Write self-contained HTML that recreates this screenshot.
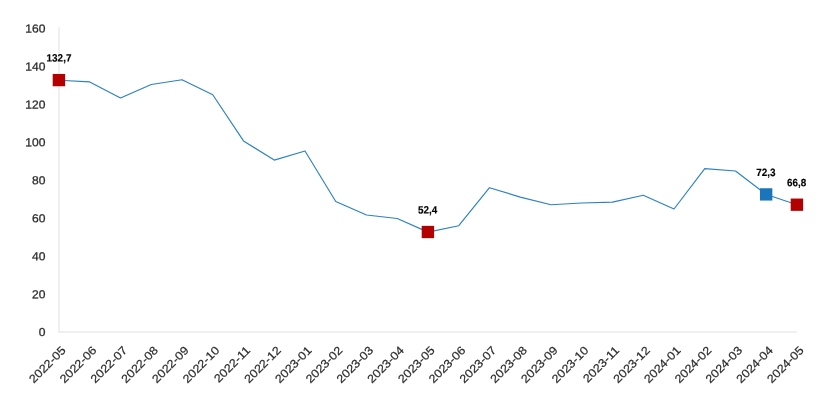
<!DOCTYPE html>
<html><head><meta charset="utf-8"><title>chart</title>
<style>html,body{margin:0;padding:0;background:#fff}svg{display:block}text{font-family:"Liberation Sans",Arial,sans-serif}</style></head><body>
<svg width="830" height="408" viewBox="0 0 830 408">
<rect width="830" height="408" fill="#fff"/>
<path d="M59 27.4V332.5M58.5 332H797" fill="none" stroke="#e0e0e0" stroke-width="1"/>
<text transform="translate(45.4 336.10) scale(1.04 1) rotate(0.03)" text-anchor="end" font-size="11.6" fill="#2b2b2b" stroke="#2b2b2b" stroke-width="0.28">0</text>
<text transform="translate(45.4 298.15) scale(1.04 1) rotate(0.03)" text-anchor="end" font-size="11.6" fill="#2b2b2b" stroke="#2b2b2b" stroke-width="0.28">20</text>
<text transform="translate(45.4 260.20) scale(1.04 1) rotate(0.03)" text-anchor="end" font-size="11.6" fill="#2b2b2b" stroke="#2b2b2b" stroke-width="0.28">40</text>
<text transform="translate(45.4 222.25) scale(1.04 1) rotate(0.03)" text-anchor="end" font-size="11.6" fill="#2b2b2b" stroke="#2b2b2b" stroke-width="0.28">60</text>
<text transform="translate(45.4 184.30) scale(1.04 1) rotate(0.03)" text-anchor="end" font-size="11.6" fill="#2b2b2b" stroke="#2b2b2b" stroke-width="0.28">80</text>
<text transform="translate(45.4 146.35) scale(1.04 1) rotate(0.03)" text-anchor="end" font-size="11.6" fill="#2b2b2b" stroke="#2b2b2b" stroke-width="0.28">100</text>
<text transform="translate(45.4 108.40) scale(1.04 1) rotate(0.03)" text-anchor="end" font-size="11.6" fill="#2b2b2b" stroke="#2b2b2b" stroke-width="0.28">120</text>
<text transform="translate(45.4 70.45) scale(1.04 1) rotate(0.03)" text-anchor="end" font-size="11.6" fill="#2b2b2b" stroke="#2b2b2b" stroke-width="0.28">140</text>
<text transform="translate(45.4 32.50) scale(1.04 1) rotate(0.03)" text-anchor="end" font-size="11.6" fill="#2b2b2b" stroke="#2b2b2b" stroke-width="0.28">160</text>
<text transform="translate(66.50 351) rotate(-45) scale(1.09 1)" text-anchor="end" font-size="11.6" fill="#2b2b2b" stroke="#2b2b2b" stroke-width="0.2">2022-05</text>
<text transform="translate(97.25 351) rotate(-45) scale(1.09 1)" text-anchor="end" font-size="11.6" fill="#2b2b2b" stroke="#2b2b2b" stroke-width="0.2">2022-06</text>
<text transform="translate(128.00 351) rotate(-45) scale(1.09 1)" text-anchor="end" font-size="11.6" fill="#2b2b2b" stroke="#2b2b2b" stroke-width="0.2">2022-07</text>
<text transform="translate(158.75 351) rotate(-45) scale(1.09 1)" text-anchor="end" font-size="11.6" fill="#2b2b2b" stroke="#2b2b2b" stroke-width="0.2">2022-08</text>
<text transform="translate(189.50 351) rotate(-45) scale(1.09 1)" text-anchor="end" font-size="11.6" fill="#2b2b2b" stroke="#2b2b2b" stroke-width="0.2">2022-09</text>
<text transform="translate(220.25 351) rotate(-45) scale(1.09 1)" text-anchor="end" font-size="11.6" fill="#2b2b2b" stroke="#2b2b2b" stroke-width="0.2">2022-10</text>
<text transform="translate(251.00 351) rotate(-45) scale(1.09 1)" text-anchor="end" font-size="11.6" fill="#2b2b2b" stroke="#2b2b2b" stroke-width="0.2">2022-11</text>
<text transform="translate(281.75 351) rotate(-45) scale(1.09 1)" text-anchor="end" font-size="11.6" fill="#2b2b2b" stroke="#2b2b2b" stroke-width="0.2">2022-12</text>
<text transform="translate(312.50 351) rotate(-45) scale(1.09 1)" text-anchor="end" font-size="11.6" fill="#2b2b2b" stroke="#2b2b2b" stroke-width="0.2">2023-01</text>
<text transform="translate(343.25 351) rotate(-45) scale(1.09 1)" text-anchor="end" font-size="11.6" fill="#2b2b2b" stroke="#2b2b2b" stroke-width="0.2">2023-02</text>
<text transform="translate(374.00 351) rotate(-45) scale(1.09 1)" text-anchor="end" font-size="11.6" fill="#2b2b2b" stroke="#2b2b2b" stroke-width="0.2">2023-03</text>
<text transform="translate(404.75 351) rotate(-45) scale(1.09 1)" text-anchor="end" font-size="11.6" fill="#2b2b2b" stroke="#2b2b2b" stroke-width="0.2">2023-04</text>
<text transform="translate(435.50 351) rotate(-45) scale(1.09 1)" text-anchor="end" font-size="11.6" fill="#2b2b2b" stroke="#2b2b2b" stroke-width="0.2">2023-05</text>
<text transform="translate(466.25 351) rotate(-45) scale(1.09 1)" text-anchor="end" font-size="11.6" fill="#2b2b2b" stroke="#2b2b2b" stroke-width="0.2">2023-06</text>
<text transform="translate(497.00 351) rotate(-45) scale(1.09 1)" text-anchor="end" font-size="11.6" fill="#2b2b2b" stroke="#2b2b2b" stroke-width="0.2">2023-07</text>
<text transform="translate(527.75 351) rotate(-45) scale(1.09 1)" text-anchor="end" font-size="11.6" fill="#2b2b2b" stroke="#2b2b2b" stroke-width="0.2">2023-08</text>
<text transform="translate(558.50 351) rotate(-45) scale(1.09 1)" text-anchor="end" font-size="11.6" fill="#2b2b2b" stroke="#2b2b2b" stroke-width="0.2">2023-09</text>
<text transform="translate(589.25 351) rotate(-45) scale(1.09 1)" text-anchor="end" font-size="11.6" fill="#2b2b2b" stroke="#2b2b2b" stroke-width="0.2">2023-10</text>
<text transform="translate(620.00 351) rotate(-45) scale(1.09 1)" text-anchor="end" font-size="11.6" fill="#2b2b2b" stroke="#2b2b2b" stroke-width="0.2">2023-11</text>
<text transform="translate(650.75 351) rotate(-45) scale(1.09 1)" text-anchor="end" font-size="11.6" fill="#2b2b2b" stroke="#2b2b2b" stroke-width="0.2">2023-12</text>
<text transform="translate(681.50 351) rotate(-45) scale(1.09 1)" text-anchor="end" font-size="11.6" fill="#2b2b2b" stroke="#2b2b2b" stroke-width="0.2">2024-01</text>
<text transform="translate(712.25 351) rotate(-45) scale(1.09 1)" text-anchor="end" font-size="11.6" fill="#2b2b2b" stroke="#2b2b2b" stroke-width="0.2">2024-02</text>
<text transform="translate(743.00 351) rotate(-45) scale(1.09 1)" text-anchor="end" font-size="11.6" fill="#2b2b2b" stroke="#2b2b2b" stroke-width="0.2">2024-03</text>
<text transform="translate(773.75 351) rotate(-45) scale(1.09 1)" text-anchor="end" font-size="11.6" fill="#2b2b2b" stroke="#2b2b2b" stroke-width="0.2">2024-04</text>
<text transform="translate(804.50 351) rotate(-45) scale(1.09 1)" text-anchor="end" font-size="11.6" fill="#2b2b2b" stroke="#2b2b2b" stroke-width="0.2">2024-05</text>
<path d="M59 80.2 L89.75 81.9 L120.5 98 L151.25 84.5 L182 79.7 L212.75 94.75 L243.5 140.9 L274.25 160.1 L305 151 L335.75 201.5 L366.5 215 L397.25 218.5 L428 232.1 L458.75 225.7 L489.5 187.7 L520.25 197.1 L551 204.7 L581.75 203 L612.5 202.1 L643.25 195.3 L674 209 L704.75 168.65 L735.5 171 L766.25 194.5 L797 204.8" fill="none" stroke="#2b82c4" stroke-width="1.15" stroke-linejoin="round"/>
<rect x="52.70" y="73.95" width="12.4" height="12.3" fill="#b30000"/>
<text transform="translate(59.00 61.40) scale(0.935 1) rotate(0.03)" text-anchor="middle" font-size="10.6" font-weight="bold" fill="#000" stroke="#000" stroke-width="0.15">132,7</text>
<rect x="421.70" y="225.85" width="12.4" height="12.3" fill="#b30000"/>
<text transform="translate(427.60 213.40) scale(0.935 1) rotate(0.03)" text-anchor="middle" font-size="10.6" font-weight="bold" fill="#000" stroke="#000" stroke-width="0.15">52,4</text>
<rect x="759.95" y="188.25" width="12.4" height="12.3" fill="#1b75bb"/>
<text transform="translate(765.85 176.00) scale(0.935 1) rotate(0.03)" text-anchor="middle" font-size="10.6" font-weight="bold" fill="#000" stroke="#000" stroke-width="0.15">72,3</text>
<rect x="790.70" y="198.55" width="12.4" height="12.3" fill="#b30000"/>
<text transform="translate(796.60 186.30) scale(0.935 1) rotate(0.03)" text-anchor="middle" font-size="10.6" font-weight="bold" fill="#000" stroke="#000" stroke-width="0.15">66,8</text>
</svg></body></html>
